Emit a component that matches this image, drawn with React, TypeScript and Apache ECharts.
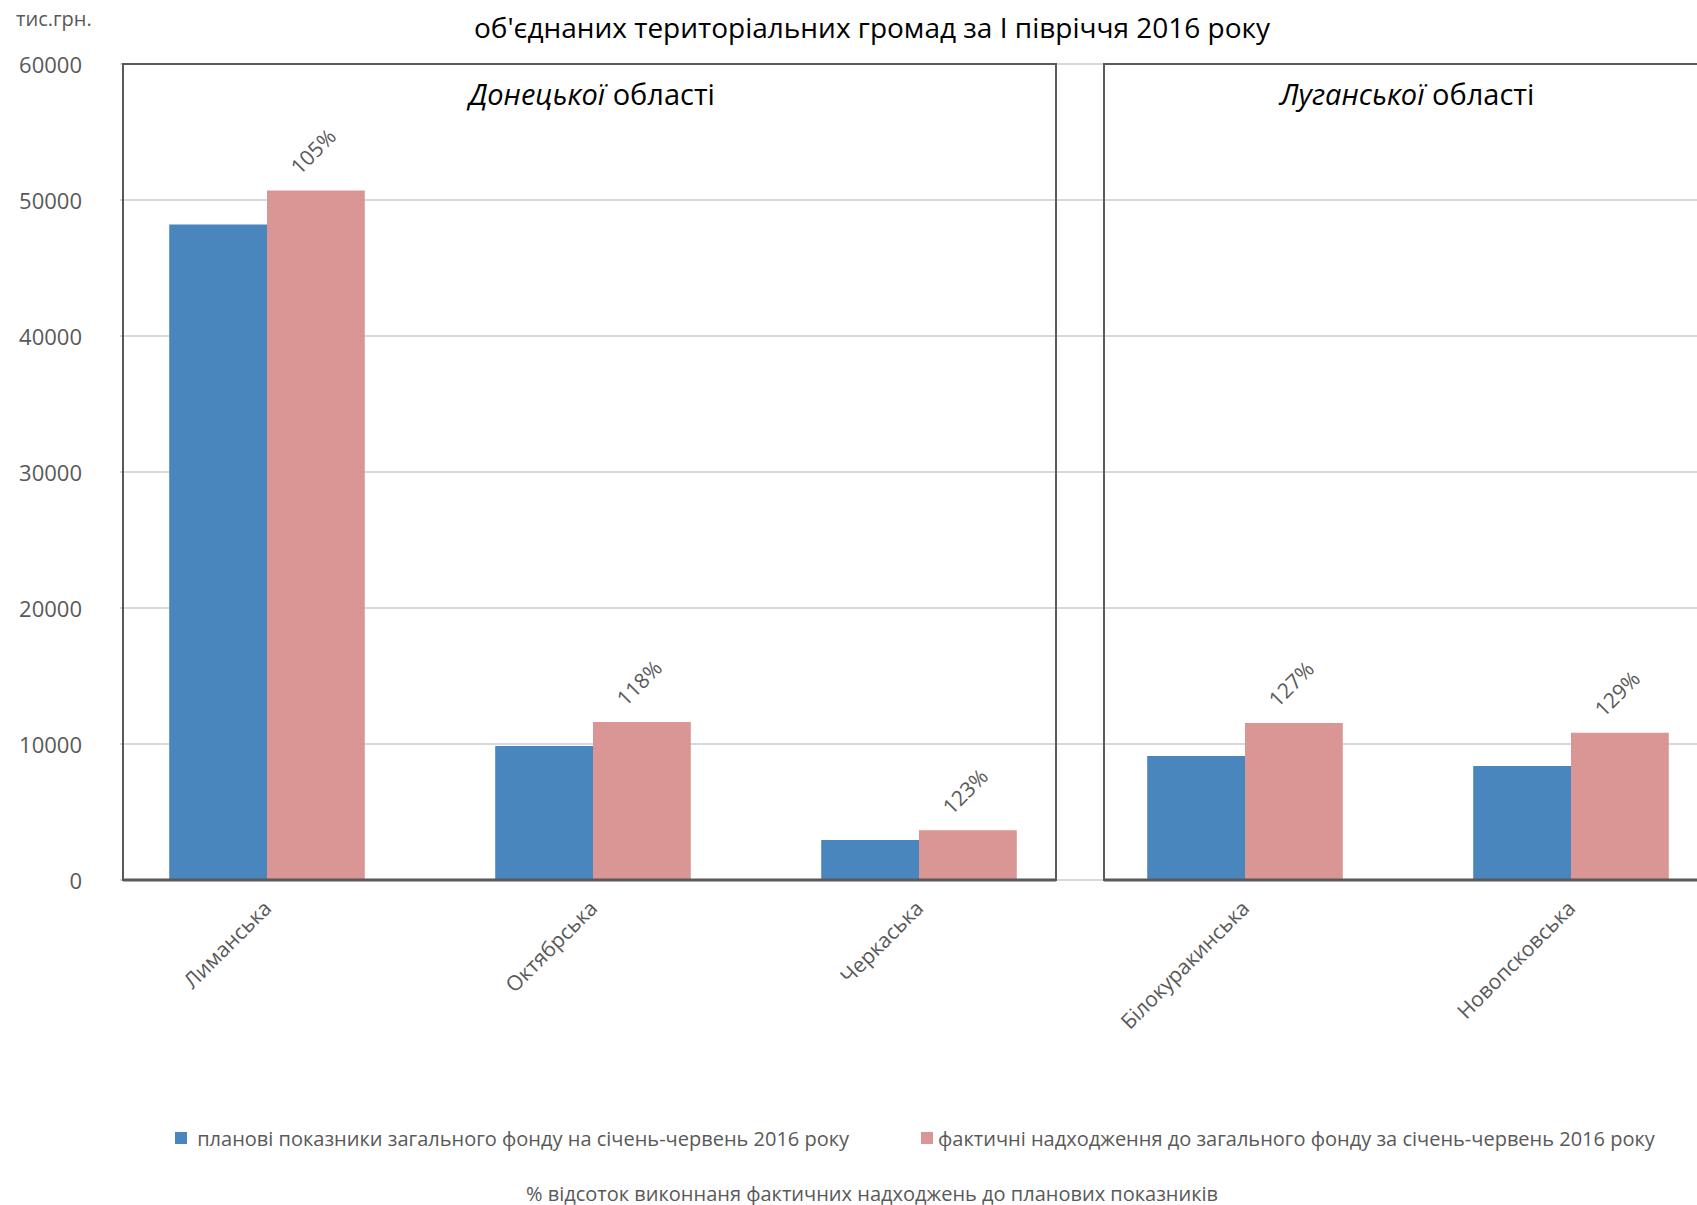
import React, { useEffect, useRef } from 'react';
import * as echarts from 'echarts';

const categories = ['Лиманська', 'Октябрська', 'Черкаська', 'Білокуракинська', 'Новопсковська'];
const planned = [48200, 9850, 2950, 9120, 8380];
const actual = [50700, 11620, 3650, 11550, 10830];
const percents = [105, 118, 123, 127, 129];
const yMin = 0;
const yMax = 60000;
const yStep = 10000;
const seriesNames = [
  'планові показники загального фонду на січень-червень 2016 року',
  'фактичні надходження до загального фонду за січень-червень 2016 року',
];
const percentLegend = '% відсоток виконнаня фактичних надходжень до планових показників';
const titleLine = "об'єднаних територіальних громад за І півріччя 2016 року";
const panelTitles = [
  ['Донецької', ' області'],
  ['Луганської', ' області'],
];
const unitLabel = 'тис.грн.';

const FONT = '"Open Sans", "Noto Sans", sans-serif';
const GRAY = '#595959';
const BLUE = '#4A86BE';
const PINK = '#D99694';

export default function App() {
  const ref = useRef<HTMLDivElement>(null);
  useEffect(() => {
    if (!ref.current) return;
    const chart = echarts.init(ref.current, undefined, { renderer: 'svg' });
    const panelTitle = (parts: string[], x: number) => ({
      type: 'text',
      x,
      y: 93,
      z: 110,
      style: {
        text: `{i|${parts[0]}}{n|${parts[1]}}`,
        textAlign: 'center',
        textVerticalAlign: 'middle',
        fill: '#000',
        rich: {
          i: { fontStyle: 'italic', fontSize: 29, fontFamily: FONT, fill: '#000', color: '#000' },
          n: { fontSize: 29, fontFamily: FONT, fill: '#000', color: '#000' },
        },
        font: `29px ${FONT}`,
      },
    });
    const legendCommon = {
      top: 1128,
      padding: 0,
      itemWidth: 12,
      itemHeight: 12,
      icon: 'rect',
      textStyle: { fontSize: 20, color: GRAY, fontFamily: FONT },
    };
    const option: any = {
      animation: false,
      backgroundColor: '#ffffff',
      textStyle: { fontFamily: FONT },
      grid: [
        { left: 120, width: 1620, top: 64, height: 816 },
        { left: 104, width: 1630, top: 64, height: 816 },
      ],
      xAxis: [
        { type: 'value', gridIndex: 0, show: false, min: 0, max: 1 },
        {
          type: 'category',
          gridIndex: 1,
          data: categories,
          axisLine: { show: false },
          axisTick: { show: false },
          axisLabel: { rotate: 45, margin: 24, fontSize: 21, color: GRAY, interval: 0, fontFamily: FONT },
        },
      ],
      yAxis: [
        {
          type: 'value',
          gridIndex: 0,
          min: yMin,
          max: yMax,
          interval: yStep,
          axisLine: { show: false },
          axisTick: { show: false },
          axisLabel: { fontSize: 22, color: GRAY, margin: 38, fontFamily: FONT, formatter: (v: number) => String(v) },
          splitLine: { lineStyle: { color: '#D9D9D9', width: 2 } },
        },
        { type: 'value', gridIndex: 1, min: yMin, max: yMax, interval: yStep, show: false },
      ],
      legend: [
        { ...legendCommon, data: [seriesNames[0]], left: 175, formatter: (n: string) => ' ' + n },
        { ...legendCommon, data: [seriesNames[1]], left: 921 },
      ],
      series: [
        {
          type: 'bar',
          name: seriesNames[0],
          xAxisIndex: 1,
          yAxisIndex: 1,
          data: planned,
          barGap: '0%',
          barCategoryGap: '40%',
          itemStyle: { color: BLUE },
        },
        {
          type: 'bar',
          name: seriesNames[1],
          xAxisIndex: 1,
          yAxisIndex: 1,
          data: actual,
          barGap: '0%',
          barCategoryGap: '40%',
          itemStyle: { color: PINK },
          label: {
            show: true,
            position: 'top',
            distance: 42,
            offset: [-4, 0],
            rotate: 45,
            align: 'center',
            verticalAlign: 'middle',
            fontSize: 21,
            color: GRAY,
            fontFamily: FONT,
            formatter: (p: any) => percents[p.dataIndex] + '%',
          },
        },
      ],
      graphic: [
        {
          type: 'text',
          x: 16,
          y: 18,
          style: { text: unitLabel, font: `20px ${FONT}`, fill: GRAY, textVerticalAlign: 'middle' },
        },
        {
          type: 'text',
          x: 872,
          y: 27,
          style: { text: titleLine, font: `28px ${FONT}`, fill: '#000', textAlign: 'center', textVerticalAlign: 'middle' },
        },
        panelTitle(panelTitles[0], 592),
        panelTitle(panelTitles[1], 1407),
        {
          type: 'rect',
          z: 100,
          shape: { x: 123, y: 64, width: 933, height: 816 },
          style: { fill: 'none', stroke: GRAY, lineWidth: 2 },
        },
        {
          type: 'rect',
          z: 100,
          shape: { x: 1104, y: 64, width: 700, height: 816 },
          style: { fill: 'none', stroke: GRAY, lineWidth: 2 },
        },
        {
          type: 'line',
          z: 101,
          shape: { x1: 123, y1: 880, x2: 1056, y2: 880 },
          style: { stroke: GRAY, lineWidth: 3 },
        },
        {
          type: 'line',
          z: 101,
          shape: { x1: 1104, y1: 880, x2: 1740, y2: 880 },
          style: { stroke: GRAY, lineWidth: 3 },
        },
        {
          type: 'text',
          x: 872,
          y: 1193,
          style: { text: percentLegend, font: `20px ${FONT}`, fill: GRAY, textAlign: 'center', textVerticalAlign: 'middle' },
        },
      ],
    };
    chart.setOption(option);
    return () => chart.dispose();
  }, []);
  return (
    <div
      ref={ref}
      style={{ position: 'fixed', left: 0, top: 0, width: 1740, height: 1205, background: '#fff' }}
    />
  );
}
